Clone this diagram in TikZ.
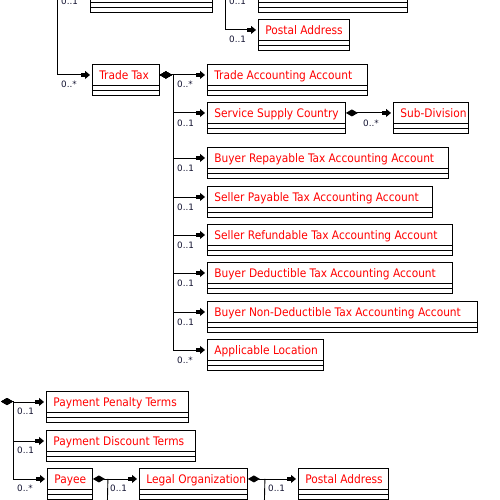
\documentclass[tikz,border=0pt]{standalone}
\usepackage{fontspec}
\setmainfont{DejaVu Sans}
\newfontfamily\clsfont{DejaVu Sans Condensed}
\usetikzlibrary{arrows.meta,calc}
\definecolor{clsred}{RGB}{255,0,0}
\definecolor{multink}{RGB}{20,20,50}
\tikzset{
  boxline/.style={line width=0.9pt},
  cls/.style={draw, line width=0.9pt, anchor=north west, minimum height=21pt,
    inner ysep=0pt, inner xsep=7pt, text=clsred, text height=11pt, text depth=2pt,
    font=\clsfont\fontsize{11.8}{13}\selectfont},
  wire/.style={line width=0.9pt},
  assoc/.style={wire, shorten >=2pt,
    -{Rectangle[length=4.5pt,width=4pt,sep=0pt]Triangle[length=5pt,width=8pt]}},
  compo/.style={wire, shorten >=2pt,
    {Diamond[length=12pt,width=7pt]}-{Rectangle[length=4.5pt,width=4pt,sep=0pt]Triangle[length=5pt,width=8pt]}},
  mult/.style={anchor=west, inner sep=0pt, text=multink,
    font=\fontsize{8.8}{9}\selectfont},
}
% class box: name, left x, top y, width, title
\newcommand\umlclass[5]{%
  \pgfmathsetmacro\clswidth{#4-14}%
  \node[cls] (#1) at (#2,#3) {\makebox[\clswidth pt][l]{#5}};
  \draw[boxline] (#1.south west) rectangle ([yshift=-5pt]#1.south east);
  \draw[boxline] ([yshift=-5pt]#1.south west) rectangle ([yshift=-9.5pt]#1.south east);
}
\begin{document}
\begin{tikzpicture}[x=1pt,y=-1pt]
\useasboundingbox (0,0) rectangle (500,500);
\clip (0,0) rectangle (500,500);

% classes
\umlclass{upperA}{90}{-19}{122}{}
\umlclass{upperB}{258}{-19}{149}{}
\umlclass{pa1}{258}{19}{91}{Postal Address}
\umlclass{tt}{92}{64}{67}{Trade Tax}
\umlclass{taa}{207}{64}{160}{Trade Accounting Account}
\umlclass{ssc}{207}{102}{138}{Service Supply Country}
\umlclass{sub}{393}{102}{75}{Sub-Division}
\umlclass{brt}{207}{147}{241}{Buyer Repayable Tax Accounting Account}
\umlclass{spt}{207}{186}{225}{Seller Payable Tax Accounting Account}
\umlclass{srt}{207}{224}{245}{Seller Refundable Tax Accounting Account}
\umlclass{bdt}{207}{262}{245}{Buyer Deductible Tax Accounting Account}
\umlclass{bnd}{207}{301}{270}{Buyer Non-Deductible Tax Accounting Account}
\umlclass{apl}{207}{339}{116}{Applicable Location}
\umlclass{ppt}{46}{391}{142}{Payment Penalty Terms}
\umlclass{pdt}{46}{430}{149}{Payment Discount Terms}
\umlclass{payee}{47}{468}{45}{Payee}
\umlclass{lo}{139}{468}{108}{Legal Organization}
\umlclass{pa2}{298}{468}{90}{Postal Address}

% connectors entering from above
\coordinate (srcA) at (57,-40);
\coordinate (srcB) at (225,-40);
\draw[assoc] (srcA) |- (upperA.west);
\draw[assoc] (srcA) |- (tt.west);
\draw[assoc] (srcB) |- (upperB.west);
\draw[assoc] (srcB) |- (pa1.west);

% Trade Tax compositions
\coordinate (ttj) at ($(tt.east)+(14pt,0)$);
\foreach \t in {taa,ssc,brt,spt,srt,bdt,bnd,apl}
  \draw[compo] (tt.east) -- (ttj) |- (\t.west);
\draw[compo] (ssc.east) -- (sub.west);

% payment part
\coordinate (srcC) at (1,401.5);
\coordinate (pj) at ($(srcC)+(12pt,0)$);
\foreach \t in {ppt,pdt,payee}
  \draw[compo] (srcC) -- (pj) |- (\t.west);
\coordinate (yj) at ($(payee.east)+(15pt,0)$);
\coordinate (yjd) at (107,520);
\draw[compo] (payee.east) -- (lo.west);
\draw[wire] (yj) -- (yjd);
\coordinate (lj) at ($(lo.east)+(17pt,0)$);
\coordinate (ljd) at (264,520);
\draw[compo] (lo.east) -- (pa2.west);
\draw[wire] (lj) -- (ljd);

% multiplicities
\node[mult] (m1) at (61,1.5) {0..1};
\node[mult] (m2) at (61,84.5) {0..*};
\node[mult] (m3) at (229,1.5) {0..1};
\node[mult] (m4) at (229,39.5) {0..1};
\node[mult] (m5) at (177,84.5) {0..*};
\node[mult] (m6) at (177,123) {0..1};
\node[mult] (m7) at (363,123) {0..*};
\node[mult] (m8) at (177,168) {0..1};
\node[mult] (m9) at (177,207) {0..1};
\node[mult] (m10) at (177,245) {0..1};
\node[mult] (m11) at (177,283) {0..1};
\node[mult] (m12) at (177,322) {0..1};
\node[mult] (m13) at (177,360) {0..*};
\node[mult] (m14) at (17,411.5) {0..1};
\node[mult] (m15) at (17,450.5) {0..1};
\node[mult] (m16) at (17,488.5) {0..*};
\node[mult] (m17) at (110,488.5) {0..1};
\node[mult] (m18) at (268,488.5) {0..1};
\end{tikzpicture}
\end{document}
